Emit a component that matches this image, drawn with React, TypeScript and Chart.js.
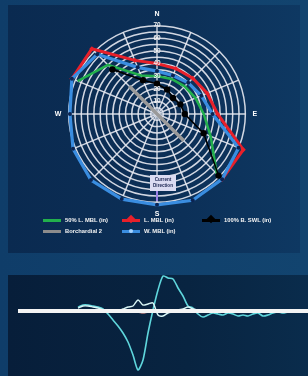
import React, { useEffect, useRef } from 'react';
import { Chart, registerables } from 'chart.js';
Chart.register(...registerables);

// ---- Radar (current rose) data ----
const directions = ['N', 'NNE', 'NE', 'ENE', 'E', 'ESE', 'SE', 'SSE', 'S', 'SSW', 'SW', 'WSW', 'W', 'WNW', 'NW', 'NNW'];
const compassLabels = ['N', '', '', '', 'E', '', '', '', 'S', '', '', '', 'W', '', '', ''];
const ringLabels = [10, 20, 30, 40, 50, 60, 70];
const halfLMbl = [30, 30, 31, 33, 37, 46, 67, null, null, null, null, null, null, 68, 55, 33];
const lMbl = [40, 39, 40, 43, 48, 74, 73, null, null, null, null, null, null, 73, 73, 46];
const fullBSwl = [24, 21, 18, 20, 22, 40, 69, null, null, null, null, null, null, null, 50, 29];
const borchardial = [null, null, null, null, null, null, 30, null, null, null, null, null, null, null, 31, null];
const wMbl = [34, 33, 35, 38, 44, 70, 73, 74, 72, 73, 74, 72, 69, 73, 67, 40];

// ---- Lower trace data ----
const timeSteps = Array.from({ length: 61 }, (_, i) => String(i));
const baseline = [null, null, 0, 0, 0, 0, 0, 0, 0, 0, 0, 0, 0, 0, 0, 0, 0, 0, 0, 0, 0, 0, 0, 0, 0, 0, 0, 0, 0, 0, 0, 0, 0, 0, 0, 0, 0, 0, 0, 0, 0, 0, 0, 0, 0, 0, 0, 0, 0, 0, 0, 0, 0, 0, 0, 0, 0, 0, 0, 0, 0];
const cyanTrace = [null, null, null, null, null, null, null, null, null, null, null, null, null, null, 4, 6, 6, 5, 4, 2, -3, -9, -15, -22, -31, -44, -59, -49, -22, 1, 21, 35, 33, 32, 23, 15, 5, 3, -3, -6, -4, -2, -3, -4, -2, -3, -5, -4, -5, -3, -2, -5, -4, -2, -1, -2, -1, -1, 0, -1, 0];
const paleTrace = [null, null, null, null, null, null, null, null, null, null, null, null, null, null, 3, 5, 5, 4, 3, 1, 0, 1, 0, 2, 4, 5, 11, 6, 7, 8, -4, -5, -2, -1, 1, 2, 4, 2, 1, 0, 0, 0, -1, 0, 0, null, null, null, null, null, null, null, null, null, null, null, null, null, null, null, null];
const pinkTrace = [null, null, null, null, null, null, null, null, null, null, null, null, null, null, null, null, null, null, null, null, null, null, null, null, -1, -1, -1, -2, -1, -1, -1, -1, null, null, null, null, null, null, null, null, null, null, null, null, null, null, null, null, null, null, null, null, null, null, null, null, null, null, null, null, null];

const legendRow1 = [
  { label: '50% L. MBL (in)', color: '#22b04c', x: 43, marker: '' },
  { label: 'L. MBL (in)', color: '#e8202a', x: 122, marker: 'diamond' },
  { label: '100% B. SWL (in)', color: '#000000', x: 202, marker: 'diamond' },
];
const legendRow2 = [
  { label: 'Borchardial 2', color: '#8c8c8c', x: 43, marker: '' },
  { label: 'W. MBL (in)', color: '#3a8de0', x: 122, marker: 'dot' },
];

function RadarChart() {
  const ref = useRef<HTMLCanvasElement>(null);
  useEffect(() => {
    const grid = 'rgba(232,234,242,0.9)';
    const chart = new Chart(ref.current!, {
      type: 'radar',
      data: {
        labels: compassLabels,
        datasets: [
          { label: 'Borchardial 2', data: borchardial, borderColor: '#9a9a9a', borderWidth: 3.5, pointRadius: 0, spanGaps: true, fill: false, clip: false } as any,
          { label: '100% B. SWL (in)', data: fullBSwl, borderColor: '#000', borderWidth: 1.6, pointRadius: 3.2, pointBackgroundColor: '#000', pointBorderWidth: 0, fill: false, clip: false } as any,
          { label: '50% L. MBL (in)', data: halfLMbl, borderColor: '#22b04c', borderWidth: 2.5, pointRadius: 0, fill: false, clip: false } as any,
          { label: 'W. MBL (in)', data: wMbl, borderColor: '#3a8de0', borderWidth: 3.2, pointRadius: 2, pointBackgroundColor: '#0b2452', pointBorderWidth: 0, fill: false, clip: false } as any,
          { label: 'L. MBL (in)', data: lMbl, borderColor: '#e8202a', borderWidth: 3, pointRadius: 2.5, pointStyle: 'rectRot', pointBackgroundColor: '#e8202a', pointBorderWidth: 0, fill: false, clip: false } as any,
        ],
      },
      options: {
        animation: false,
        responsive: false,
        maintainAspectRatio: false,
        layout: { padding: 0 },
        plugins: { legend: { display: false }, tooltip: { enabled: false } },
        elements: { line: { tension: 0 } },
        scales: {
          r: {
            min: 0,
            max: 70,
            ticks: {
              stepSize: 5,
              showLabelBackdrop: false,
              color: '#f2f2f2',
              font: { size: 6.5, weight: 'bold', family: 'Liberation Sans, Arial' },
              callback: (v: any) => (ringLabels.includes(v) ? String(v) : ''),
              z: 1,
            },
            grid: { color: grid, lineWidth: 1.5, circular: true },
            angleLines: { color: grid, lineWidth: 1.4 },
            pointLabels: { color: '#ffffff', font: { size: 7, weight: 'bold', family: 'Liberation Sans, Arial' }, padding: 2 },
          },
        },
      } as any,
    });
    return () => chart.destroy();
  }, []);
  return <canvas ref={ref} width={208} height={208} style={{ position: 'absolute', left: 53, top: 11, width: 208, height: 208 }} />;
}

function TraceChart() {
  const ref = useRef<HTMLCanvasElement>(null);
  useEffect(() => {
    const chart = new Chart(ref.current!, {
      type: 'line',
      data: {
        labels: timeSteps,
        datasets: [
          { data: baseline, borderColor: '#f4f4f4', borderWidth: 4, pointRadius: 0, tension: 0 },
          { data: pinkTrace, borderColor: 'rgba(230,150,140,0.8)', borderWidth: 1.5, pointRadius: 0, tension: 0.3 },
          { data: paleTrace, borderColor: '#d9f6f6', borderWidth: 1.4, pointRadius: 0, tension: 0.3 },
          { data: cyanTrace, borderColor: '#5fd6dc', borderWidth: 1.6, pointRadius: 0, tension: 0.25 },
        ],
      },
      options: {
        animation: false,
        responsive: false,
        maintainAspectRatio: false,
        layout: { padding: 0 },
        plugins: { legend: { display: false }, tooltip: { enabled: false } },
        scales: {
          x: { display: false, offset: false },
          y: { display: false, min: -65, max: 36 },
        },
      } as any,
    });
    return () => chart.destroy();
  }, []);
  return <canvas ref={ref} width={300} height={101} style={{ position: 'absolute', left: 8, top: 275, width: 300, height: 101 }} />;
}

function LegendItem({ item, y }: { item: any; y: number }) {
  return (
    <div style={{ position: 'absolute', left: item.x, top: y - 5, height: 10, display: 'flex', alignItems: 'center' }}>
      <div style={{ position: 'relative', width: 18, height: 3, background: item.color }}>
        {item.marker === 'diamond' && (
          <div style={{ position: 'absolute', left: 6, top: -2.5, width: 6, height: 6, background: item.color, transform: 'rotate(45deg)' }} />
        )}
        {item.marker === 'dot' && (
          <div style={{ position: 'absolute', left: 7, top: -0.5, width: 4, height: 4, borderRadius: 2, background: '#a8d4ff' }} />
        )}
      </div>
      <span style={{ marginLeft: 4, color: '#f4f4f4', fontSize: 5.8, fontWeight: 700, fontFamily: 'Liberation Sans, Arial', whiteSpace: 'nowrap' }}>{item.label}</span>
    </div>
  );
}

export default function App() {
  return (
    <div style={{ position: 'fixed', left: 0, top: 0, width: 308, height: 376, overflow: 'hidden', background: 'linear-gradient(90deg,#0f3d69,#12446f)' }}>
      <div style={{ position: 'absolute', left: 8, top: 5, width: 292, height: 248, background: 'linear-gradient(90deg,#0a2a50,#0c3058 60%,#0e3862)' }} />
      <div style={{ position: 'absolute', left: 8, top: 275, width: 300, height: 101, background: 'linear-gradient(90deg,#071e3a,#082441 60%,#0a2c4c)' }} />
      <RadarChart />
      <div style={{ position: 'absolute', left: 156, top: 191, width: 1.5, height: 10, background: '#9c82e6' }} />
      <div style={{ position: 'absolute', left: 150, top: 175, width: 26, height: 16, background: '#dcdcf2', color: '#1a2450', fontSize: 4.6, fontWeight: 700, fontFamily: 'Liberation Sans, Arial', lineHeight: '6px', textAlign: 'center', display: 'flex', flexDirection: 'column', justifyContent: 'center' }}>
        <div>Current</div>
        <div>Direction</div>
      </div>
      {legendRow1.map((it) => <LegendItem key={it.label} item={it} y={220} />)}
      {legendRow2.map((it) => <LegendItem key={it.label} item={it} y={231} />)}
      <TraceChart />
    </div>
  );
}
